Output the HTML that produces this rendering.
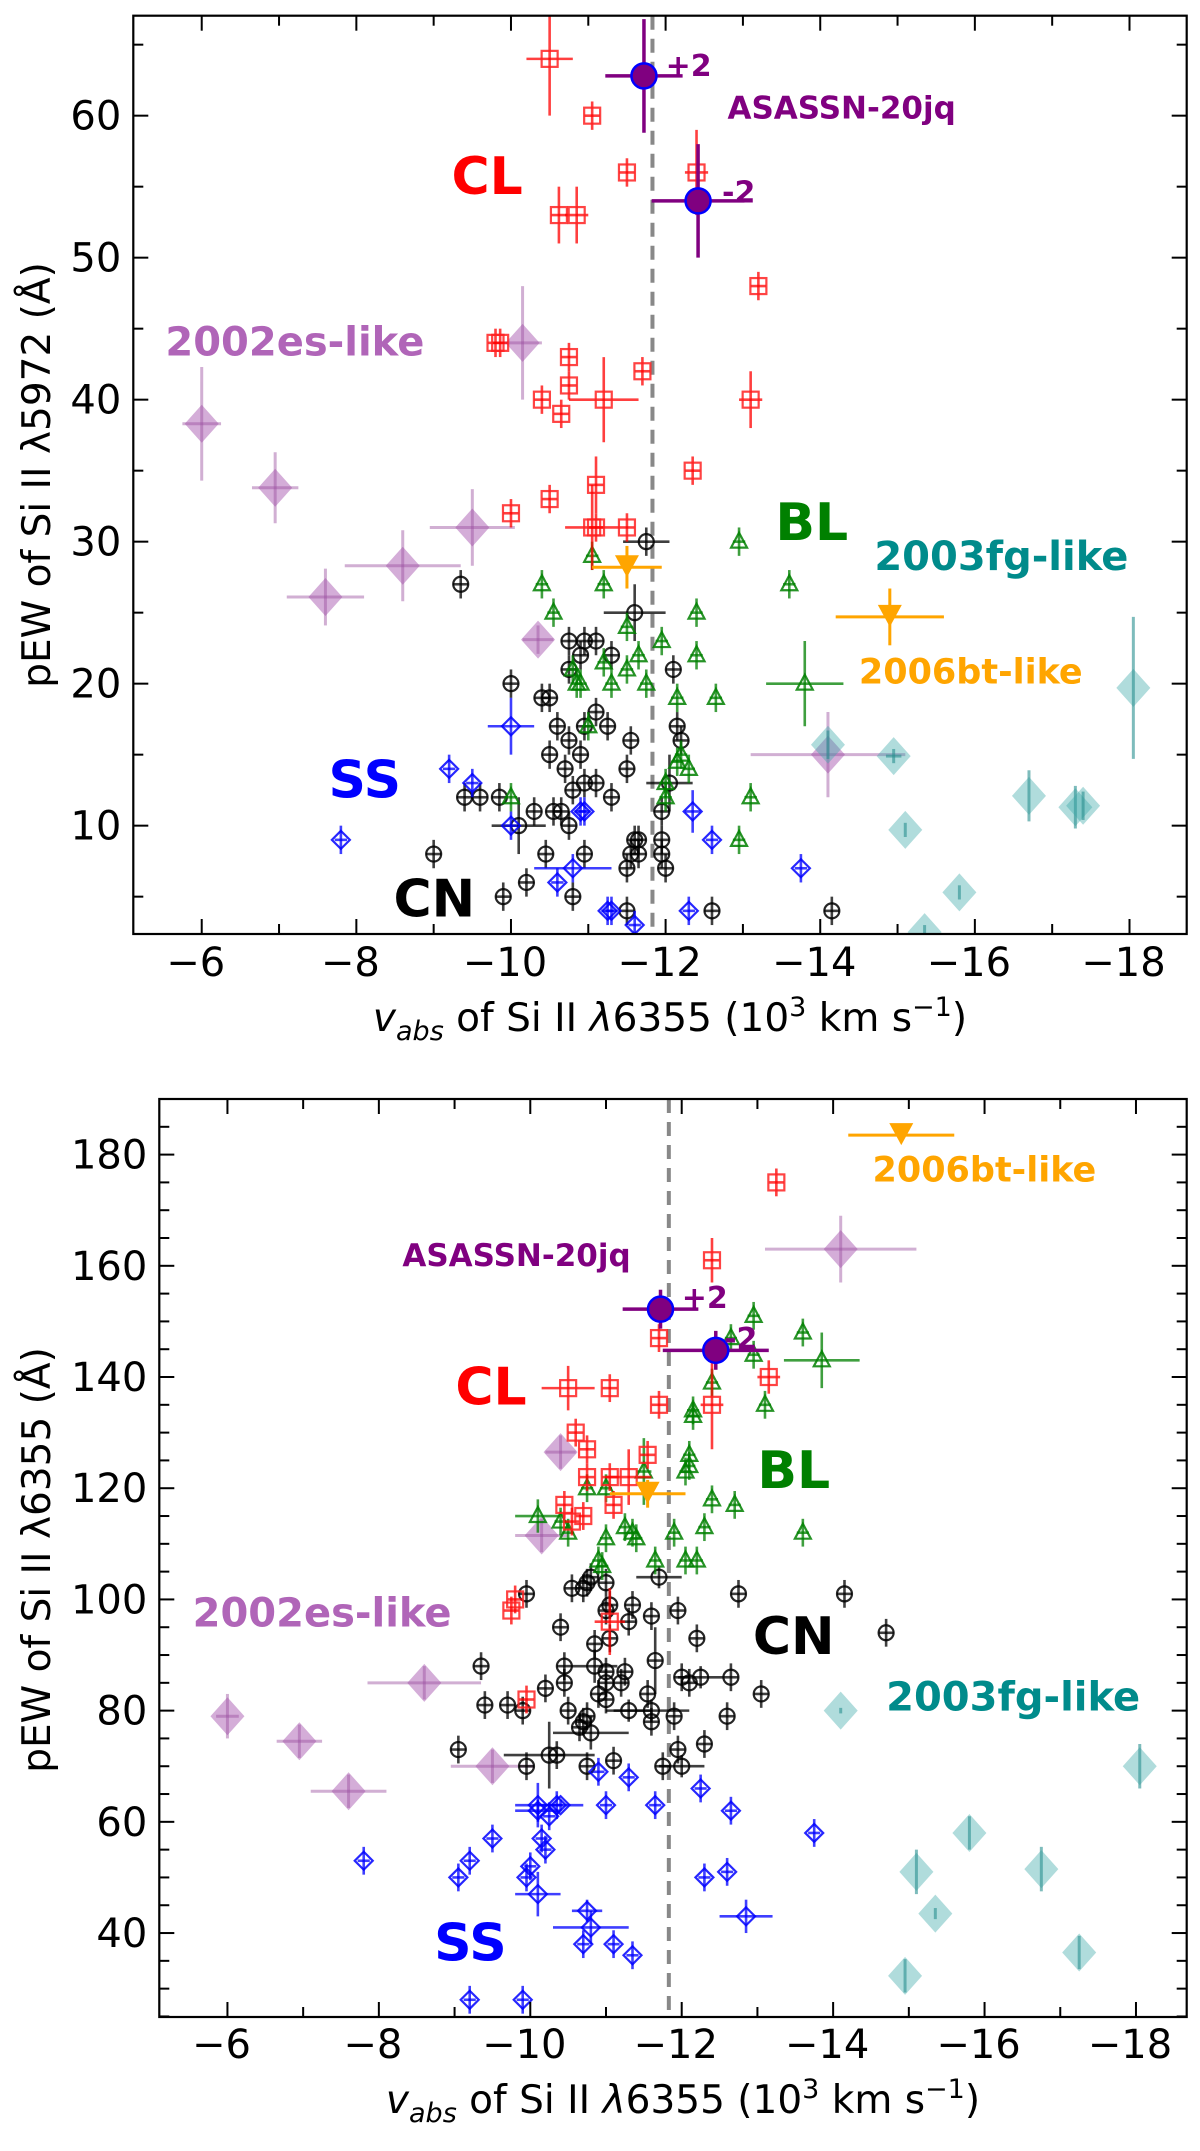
<!DOCTYPE html>
<html><head><meta charset="utf-8"><style>
html,body{margin:0;padding:0;background:#fff;}
svg{display:block;font-family:"DejaVu Sans","Liberation Sans",sans-serif;}
</style></head><body>
<svg id="fig" width="1200" height="2151" viewBox="0 0 1200 2151" xmlns="http://www.w3.org/2000/svg"></svg>
<script>
// ---------- DATA (x = v_abs in 10^3 km/s, y = pEW) [x, y, xerr, yerr] ----------
const xTicks=[-6,-8,-10,-12,-14,-16,-18];
const xTickLabels=["\u22126","\u22128","\u221210","\u221212","\u221214","\u221216","\u221218"];
const topYTicks=[10,20,30,40,50,60];
const botYTicks=[40,60,80,100,120,140,160,180];
const dividerX=-11.83;

const topCL=[[-10.5,64,.3,4],[-11.05,60],[-11.5,56],[-12.4,56,.15,3],[-10.62,53,.1,2],[-10.85,53,.15,2],[-13.2,48],[-9.8,44],[-9.86,44],[-10.75,43],[-10.75,41],[-11.7,42],[-10.4,40],[-11.2,40,.45,3],[-13.1,40,.15,2],[-10.65,39],[-12.35,35],[-11.1,34,.1,2],[-10.5,33],[-10.0,32],[-11.05,31,.35,3],[-11.5,31],[-11.1,31]];
const topBL=[[-11.05,29],[-11.2,27],[-10.4,27],[-10.55,25],[-12.4,25],[-11.5,24],[-11.95,23],[-12.4,22],[-11.65,22],[-11.5,21],[-10.8,21],[-11.2,21.5],[-11.3,20],[-11.75,20],[-10.85,20],[-12.15,19],[-12.65,19],[-12.2,15],[-12.3,14],[-12.15,14.5],[-12.0,13],[-12.0,12],[-10.0,12],[-13.1,12],[-12.95,9],[-12.95,30],[-13.6,27],[-13.8,20,.5,3],[-10.9,20],[-11.0,17]];
const topCN=[[-11.75,30,.3,1],[-9.35,27],[-11.6,25,.4,2],[-10.75,23],[-10.95,23],[-11.1,23],[-10.9,22],[-11.3,22],[-12.1,21],[-10.75,21],[-10.0,20],[-10.4,19],[-10.5,19],[-11.1,18],[-10.6,17],[-10.95,17],[-11.25,17],[-12.15,17],[-12.2,16],[-10.75,16],[-11.55,16],[-10.5,15],[-10.9,15],[-10.7,14],[-11.5,14],[-9.4,12],[-9.6,12],[-9.85,12],[-12.05,13,.3,2],[-10.95,13],[-11.1,13],[-11.3,12],[-10.8,12.5],[-10.3,11],[-10.55,11],[-10.65,11],[-10.75,10],[-10.1,10,.35,2],[-11.95,11],[-11.6,9],[-11.65,9],[-11.95,9],[-9.0,8],[-10.45,8],[-10.95,8],[-11.55,8],[-11.65,8],[-11.95,8],[-11.5,7],[-12.0,7],[-10.2,6],[-9.9,5],[-10.8,5],[-11.5,4],[-12.6,4],[-14.15,4]];
const topSS=[[-10.0,17,.3,2],[-9.2,14],[-9.5,13],[-10.9,11],[-10.95,11],[-12.35,11,.1,1.5],[-10.0,10],[-12.6,9],[-7.8,9],[-13.75,7],[-10.8,7,.5,1],[-10.6,6],[-11.3,4],[-11.25,4],[-12.3,4],[-11.6,3]];
const top02es=[[-6.0,38.3,.25,4],[-6.95,33.8,.3,2.5],[-7.6,26.1,.5,2],[-8.6,28.3,.75,2.5],[-9.5,31,.55,2.7],[-10.15,44,.25,4],[-10.35,23.1,.2,1],[-14.1,15,1,3]];
const top03fg=[[-14.1,15.7,0,1],[-14.95,14.9,.1,.5],[-18.05,19.7,0,5],[-16.7,12.1,0,1.8],[-17.3,11.3,0,1.5],[-17.4,11.4,0,1],[-15.1,9.7,0,.5],[-15.8,5.3,0,.5],[-15.35,2.5,0,.5]];
const top06bt=[[-11.5,28.2,.45,1.5],[-14.9,24.7,.7,2]];
const topAS=[[-11.72,62.8,.5,4],[-12.42,54,.6,4]];

const botCL=[[-13.25,175],[-12.4,161,.1,4],[-11.7,147],[-10.5,138,.35,4],[-11.05,138],[-13.15,140,.15,3],[-11.7,135],[-12.4,135,.15,8],[-10.6,130],[-10.75,127],[-11.55,126],[-10.75,122],[-11.05,122],[-11.3,122,.3,5],[-11.1,117],[-10.45,117],[-10.55,114],[-10.7,115],[-11.05,96,.2,6],[-9.8,100],[-9.75,98],[-9.95,82]];
const botBL=[[-12.95,151],[-12.65,147],[-13.6,148],[-12.95,144],[-12.4,139],[-13.85,143,.5,5],[-13.1,135],[-12.15,133],[-12.15,134],[-12.1,126],[-12.1,124],[-12.05,123],[-12.4,118],[-12.7,117],[-11.5,123,.1,6],[-10.75,120],[-11.0,120],[-12.3,113],[-11.25,113],[-11.35,112],[-11.4,111],[-11.0,111],[-11.9,112],[-10.5,112],[-13.6,112],[-10.1,115,.3,3],[-10.4,114],[-11.65,107],[-12.05,107],[-12.2,107],[-10.9,107],[-10.95,106]];
const botCN=[[-10.8,104],[-11.7,104,.3,2],[-10.75,103],[-11.0,103],[-10.55,102],[-10.7,102],[-9.95,101],[-12.75,101],[-14.15,101],[-11.05,99],[-11.35,99],[-11.0,98],[-11.95,98],[-11.6,97],[-11.3,96],[-10.4,95],[-14.7,94],[-10.85,92],[-11.05,93],[-12.2,93],[-11.65,89,.1,6],[-10.45,88],[-10.85,88,.3,3],[-9.35,88],[-11.0,87],[-11.25,87],[-12.0,86],[-12.25,86,.3,2],[-12.65,86],[-11.2,85],[-11.0,85],[-12.1,85],[-10.45,85],[-10.2,84],[-13.05,83],[-10.9,83],[-11.0,82],[-11.55,83],[-9.4,81],[-9.7,81],[-9.9,80],[-10.5,80],[-10.75,79],[-11.3,80,.3,2],[-11.6,80,.5,2],[-11.6,78],[-11.9,79],[-12.6,79],[-10.7,78],[-10.65,77],[-10.8,76,.5,3],[-12.3,74],[-11.95,73],[-9.05,73],[-10.25,72,.6,6],[-10.35,72],[-9.95,70],[-10.75,70],[-11.1,71],[-11.75,70],[-12.0,70,.3,2]];
const botSS=[[-10.9,69],[-11.3,68],[-12.25,66],[-10.1,63,.3,4],[-10.35,63],[-10.4,63,.3,1],[-11.0,63],[-11.65,63],[-10.1,62,.3,2],[-10.25,61],[-12.65,62],[-9.5,57],[-10.15,57],[-10.2,55],[-13.75,58],[-7.8,53],[-9.2,53],[-10.0,52],[-9.05,50],[-9.95,50],[-12.3,50],[-12.6,51],[-10.1,47,.3,4],[-10.75,44,.2,2],[-12.85,43,.35,3],[-10.8,41,.5,3],[-10.7,38],[-11.1,38],[-11.35,36],[-9.2,28],[-9.9,28]];
const bot02es=[[-6.0,79,.15,4],[-6.95,74.5,.3,3],[-7.6,65.5,.5,3],[-8.6,85,.75,3],[-9.5,70,.55,3],[-10.4,126.5,.2,3],[-10.15,111.5,.35,3],[-14.1,163,1,6]];
const bot03fg=[[-14.1,80,0,.5],[-18.05,70,0,4],[-15.8,58,0,3],[-15.1,51,0,4],[-16.75,51.5,0,4],[-15.35,43.5,0,1],[-17.25,36.5,0,3],[-14.95,32.3,0,3]];
const bot06bt=[[-14.9,183.5,.7,0],[-11.55,119,.5,2.5]];
const botAS=[[-11.72,152.2,.5,3.5],[-12.45,144.8,.7,3.5]];

// ---------- RENDERING ----------
const NS="http://www.w3.org/2000/svg";
const svg=document.getElementById('fig');
function mk(tag,attrs,parent){const e=document.createElementNS(NS,tag);for(const k in attrs)e.setAttribute(k,attrs[k]);(parent||svg).appendChild(e);return e;}

function makeAxes(box,xd,yd){
  return {
    x:v=>box.l+(v-xd[0])/(xd[1]-xd[0])*(box.r-box.l),
    y:v=>box.b-(v-yd[0])/(yd[1]-yd[0])*(box.b-box.t), box, xd, yd};
}

function drawFrame(g,ax,yTicks,yMinorStep,tickBase,xTitleBase,yTitleCY,name){
  const b=ax.box;
  for(let v=-5;v>=-18.7;v-=1){const X=ax.x(v);if(X<b.l||X>b.r)continue;const maj=(Math.abs(v)%2===0);const L=maj?15:10;
    const t1=mk('line',{x1:X,y1:b.b,x2:X,y2:b.b-L,stroke:'#000','stroke-width':2},g);
    
    mk('line',{x1:X,y1:b.t,x2:X,y2:b.t+L,stroke:'#000','stroke-width':2},g);}
  for(let v=Math.ceil(ax.yd[0]/yMinorStep)*yMinorStep;v<=ax.yd[1];v+=yMinorStep){const Y=ax.y(v);const maj=yTicks.includes(v);const L=maj?15:10;
    const t2=mk('line',{x1:b.l,y1:Y,x2:b.l+L,y2:Y,stroke:'#000','stroke-width':2},g);
    
    mk('line',{x1:b.r,y1:Y,x2:b.r-L,y2:Y,stroke:'#000','stroke-width':2},g);}
  xTicks.forEach((v,i)=>{const t=mk('text',{x:ax.x(v)-6,y:tickBase,'font-size':40,'text-anchor':'middle',fill:'#000'},g);t.textContent=xTickLabels[i];
    });
  yTicks.forEach(v=>{const t=mk('text',{x:b.l-12,y:ax.y(v)+14,'font-size':40,'text-anchor':'end',fill:'#000'},g);t.textContent=String(v);
    });
  const fr=mk('rect',{x:b.l,y:b.t,width:b.r-b.l,height:b.b-b.t,fill:'none',stroke:'#000','stroke-width':2.2},g);
  
  const xt=mk('text',{x:(b.l+b.r)/2+10,y:xTitleBase,'font-size':39,'text-anchor':'middle',fill:'#000'},g);
  
  xt.innerHTML='<tspan font-style="italic">v</tspan><tspan font-style="italic" font-size="27" dy="9">abs</tspan><tspan dy="-9"> of Si II </tspan><tspan font-style="italic">λ</tspan><tspan>6355 (10</tspan><tspan font-size="27" dy="-15">3</tspan><tspan dy="15"> km s</tspan><tspan font-size="27" dy="-15">−1</tspan><tspan dy="15">)</tspan>';
  return xt;
}

function errbars(g,ax,p,col,op,dxe,dye,w){
  const xe=p[2]!==undefined?p[2]:dxe, ye=p[3]!==undefined?p[3]:dye;
  const X=ax.x(p[0]),Y=ax.y(p[1]);
  if(xe>0)mk('line',{x1:ax.x(p[0]-xe),y1:Y,x2:ax.x(p[0]+xe),y2:Y,stroke:col,'stroke-width':w||2.6,opacity:op},g);
  if(ye>0)mk('line',{x1:X,y1:ax.y(p[1]-ye),x2:X,y2:ax.y(p[1]+ye),stroke:col,'stroke-width':w||2.6,opacity:op},g);
}

function series(g,ax,pts,kind,name,dye){
  const sg=mk('g',{},g);
  pts.forEach(p=>{
    const X=ax.x(p[0]),Y=ax.y(p[1]);let m;
    const pg=mk('g',{},sg);
    if(kind==='sq'){errbars(pg,ax,p,'#ff0000',.75,.1,dye);m=mk('rect',{x:X-8,y:Y-8,width:16,height:16,fill:'none',stroke:'#ff2222','stroke-width':2.2,opacity:.85},pg);}
    else if(kind==='tri'){errbars(pg,ax,p,'#008000',.75,.08,dye);m=mk('polygon',{points:`${X},${Y-9} ${X-8},${Y+6} ${X+8},${Y+6}`,fill:'none',stroke:'#008000','stroke-width':2.2,opacity:.85},pg);}
    else if(kind==='cir'){errbars(pg,ax,p,'#000',.75,.1,dye);m=mk('circle',{cx:X,cy:Y,r:7.5,fill:'none',stroke:'#000','stroke-width':2.2,opacity:.85},pg);}
    else if(kind==='dia'){errbars(pg,ax,p,'#0000ff',.75,.08,dye);m=mk('polygon',{points:`${X},${Y-9} ${X+9},${Y} ${X},${Y+9} ${X-9},${Y}`,fill:'none',stroke:'#0000ff','stroke-width':2.2,opacity:.85},pg);}
    else if(kind==='es'){m=mk('polygon',{points:`${X},${Y-19} ${X+17},${Y} ${X},${Y+19} ${X-17},${Y}`,fill:'#a04aa8',opacity:.45},pg);errbars(pg,ax,p,'#9b4fa0',.45,0,0,3);}
    else if(kind==='fg'){m=mk('polygon',{points:`${X},${Y-19} ${X+17},${Y} ${X},${Y+19} ${X-17},${Y}`,fill:'#3aa8a8',opacity:.4},pg);errbars(pg,ax,p,'#2a9090',.6,0,0,3);}
    else if(kind==='bt'){errbars(pg,ax,p,'#ffa500',1,0,0,3);m=mk('polygon',{points:`${X-12},${Y-12} ${X+12},${Y-12} ${X},${Y+10}`,fill:'#ffa500'},pg);}
    else if(kind==='as'){errbars(pg,ax,p,'#800080',1,0,0,3.5);m=mk('circle',{cx:X,cy:Y,r:12.5,fill:'#800080',stroke:'#0000ff','stroke-width':2.5},pg);}
    
    
  });
}

function label(g,ax,vx,vy,txt,col,size,name){
  const t=mk('text',{x:ax.x(vx),y:ax.y(vy),'font-size':size,'font-weight':'bold',fill:col},g);t.textContent=txt;
  
}

function panel(id,ax,yTicks,tickBase,xTitleBase,yTitleCY,yTitle,d,dye,labels){
  const g=mk('g',{});
  const b=ax.box;
  const cp=mk('clipPath',{id:id+'-clip'},g);mk('rect',{x:b.l,y:b.t,width:b.r-b.l,height:b.b-b.t},cp);
  const inner=mk('g',{'clip-path':`url(#${id}-clip)`},g);
  const dl=mk('line',{x1:ax.x(dividerX),y1:b.t,x2:ax.x(dividerX),y2:b.b,stroke:'#888','stroke-width':4,'stroke-dasharray':'14 9'},inner);
  
  series(inner,ax,d.es,'es','sn2002es-like',0);
  series(inner,ax,d.fg,'fg','sn2003fg-like',0);
  series(inner,ax,d.cn,'cir','core-normal',dye);
  series(inner,ax,d.ss,'dia','shallow-silicon',dye);
  series(inner,ax,d.bl,'tri','broad-line',dye);
  series(inner,ax,d.cl,'sq','cool',dye);
  series(inner,ax,d.bt,'bt','sn2006bt-like',0);
  series(inner,ax,d.as,'as','asassn-20jq',0);
  drawFrame(g,ax,yTicks,5,tickBase,xTitleBase,yTitleCY,id);
  const yt=mk('text',{x:0,y:0,'font-size':39,'text-anchor':'middle',fill:'#000',transform:`translate(50,${yTitleCY}) rotate(-90)`},g);
  yt.textContent=yTitle;
  labels.forEach(L=>label(g,ax,L[0],L[1],L[2],L[3],L[4],L[5]));
}

const axTop=makeAxes({l:133.3,r:1186.7,t:15.7,b:934},[-5.115,-18.74],[2.37,67.04]);
const axBot=makeAxes({l:159.3,r:1186.7,t:1099,b:2017},[-5.10,-18.67],[24.9,190.0]);

panel('top-panel',axTop,topYTicks,976,1031,475,'pEW of Si II λ5972 (Å)',
  {cl:topCL,bl:topBL,cn:topCN,ss:topSS,es:top02es,fg:top03fg,bt:top06bt,as:topAS},1,
  [[-9.23,54.5,'CL','#ff0000',52,'label-cl'],[-12.8,59.8,'ASASSN-20jq','#800080',31,'label-asassn'],
   [-12.0,62.8,'+2','#800080',30,'label-plus2'],[-12.73,53.9,'-2','#800080',30,'label-minus2'],
   [-5.53,43.1,'2002es-like','#b065b8',40,'label-2002es'],[-13.42,30.1,'BL','#008000',52,'label-bl'],
   [-14.7,28.0,'2003fg-like','#008b8b',40,'label-2003fg'],[-14.5,20.0,'2006bt-like','#ffa500',35,'label-2006bt'],
   [-7.64,12.0,'SS','#0000ff',52,'label-ss'],[-8.48,3.6,'CN','#000000',52,'label-cn']]);

panel('bottom-panel',axBot,botYTicks,2058,2113,1560,'pEW of Si II λ6355 (Å)',
  {cl:botCL,bl:botBL,cn:botCN,ss:botSS,es:bot02es,fg:bot03fg,bt:bot06bt,as:botAS},2.5,
  [[-9.01,135.1,'CL','#ff0000',52,'label-cl'],[-8.31,160.0,'ASASSN-20jq','#800080',31,'label-asassn'],
   [-12.0,152.4,'+2','#800080',30,'label-plus2'],[-12.56,145,'-2','#800080',30,'label-minus2'],
   [-5.54,95.1,'2002es-like','#b065b8',40,'label-2002es'],[-13.0,120.0,'BL','#008000',52,'label-bl'],
   [-14.7,80.0,'2003fg-like','#008b8b',40,'label-2003fg'],[-14.52,175.2,'2006bt-like','#ffa500',35,'label-2006bt'],
   [-8.73,35.1,'SS','#0000ff',52,'label-ss'],[-12.94,90.2,'CN','#000000',52,'label-cn']]);
</script>
</body></html>
